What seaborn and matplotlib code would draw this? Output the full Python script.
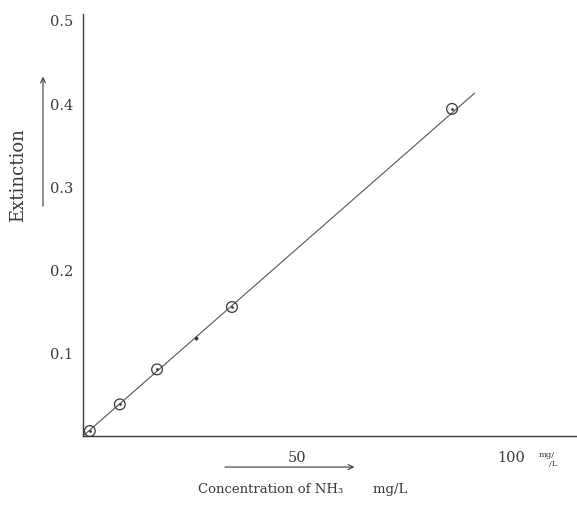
import numpy as np
import pandas as pd
import matplotlib
matplotlib.use("Agg")
import matplotlib.pyplot as plt
import seaborn as sns

# measured points (circles), one extra reading (small dot) and the fitted line
conc = [1.6, 8.6, 17.3, 34.8, 86.2]
ext = [0.006, 0.038, 0.080, 0.155, 0.393]
extra_conc = [26.4]
extra_ext = [0.118]
line_conc = [0.0, 91.5]
line_ext = [0.0, 0.412]

y_ticks = [0.1, 0.2, 0.3, 0.4, 0.5]
y_labels = ["0.1", "0.2", "0.3", "0.4", "0.5"]
x_ticks = [50, 100]
x_labels = ["50", "100"]

sns.set_style("white")
plt.rcParams['font.family'] = ['DejaVu Serif']

ink = "#3a3a3a"

fig = plt.figure(figsize=(5.77, 5.06), dpi=100)
ax = fig.add_axes([83 / 577, 1 - 437 / 506, 1 - 83 / 577, (437 - 15) / 506])

pts = pd.DataFrame({"conc": conc, "ext": ext})
sns.lineplot(x=line_conc, y=line_ext, ax=ax, color="#555555", lw=0.8)
sns.scatterplot(data=pts, x="conc", y="ext", ax=ax, s=60, marker="o",
                facecolor="none", edgecolor=ink, linewidth=0.9, zorder=3)
sns.scatterplot(data=pts, x="conc", y="ext", ax=ax, s=4, color=ink,
                linewidth=0, zorder=4)
sns.scatterplot(x=extra_conc, y=extra_ext, ax=ax, s=8, color=ink,
                linewidth=0, zorder=4)

ax.set_xlim(0, 115.4)
ax.set_ylim(0, 0.507)
ax.set_yticks(y_ticks)
ax.set_yticklabels(y_labels)
ax.set_xticks(x_ticks)
ax.set_xticklabels(x_labels)
ax.set_xlabel("")
ax.set_ylabel("")
ax.tick_params(axis="both", direction="in", length=4, width=0.8,
               colors=ink, labelsize=10.5, pad=10)
ax.tick_params(axis="y", pad=7)
for side in ["top", "right"]:
    ax.spines[side].set_visible(False)
for side in ["left", "bottom"]:
    ax.spines[side].set_color(ink)
    ax.spines[side].set_linewidth(1.0)

# axis captions with arrows, as in the scanned figure
fig.text(0.031, 0.654, "Extinction", rotation=90, ha="center", va="center",
         fontsize=13, color=ink)
fig.text(0.524, 0.032, "Concentration of NH\u2083       mg/L", ha="center",
         va="center", fontsize=9.5, color=ink)
fig.text(0.947, 0.101, "mg/", ha="center", va="center", fontsize=6, color=ink)
fig.text(0.958, 0.083, "/L", ha="center", va="center", fontsize=6, color=ink)
fig.patches.append(matplotlib.patches.FancyArrowPatch(
    (0.385, 0.075), (0.619, 0.075), transform=fig.transFigure,
    arrowstyle="->", mutation_scale=9, color=ink, lw=0.8))
fig.patches.append(matplotlib.patches.FancyArrowPatch(
    (0.0745, 0.585), (0.0745, 0.852), transform=fig.transFigure,
    arrowstyle="->", mutation_scale=9, color=ink, lw=0.8))

fig.savefig("out.png", dpi=100)
